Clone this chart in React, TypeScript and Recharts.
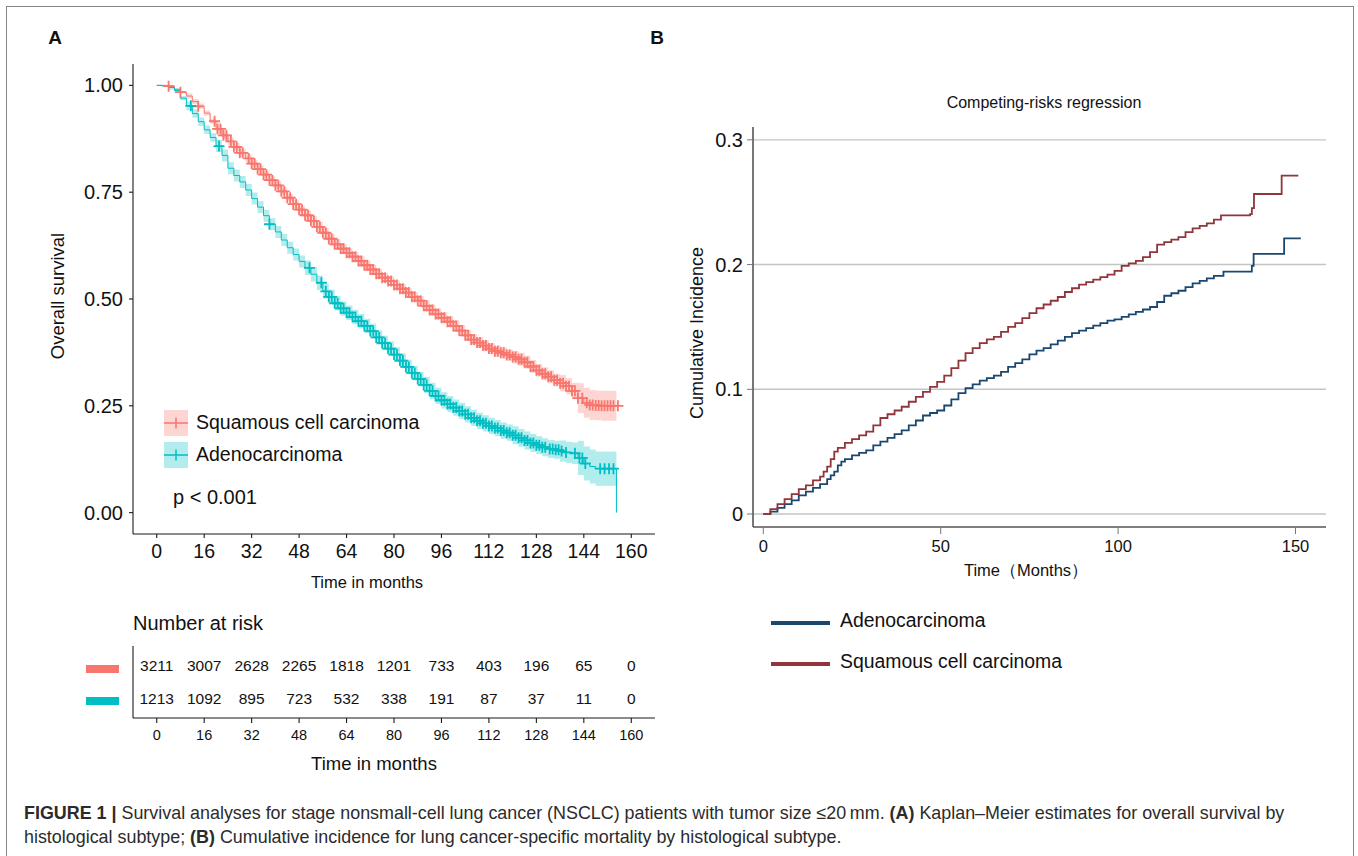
import React from "react";
import {
  Area,
  ComposedChart,
  Line,
  LineChart,
  ReferenceLine,
  Scatter,
  XAxis,
  YAxis,
} from "recharts";

const FONT = '"Liberation Sans", Arial, Helvetica, sans-serif';

const RED = "#F8766D";
const TEAL = "#00BFC4";
const NAVY = "#1a476f";
const MAROON = "#90353b";

// ---- panel A: Kaplan-Meier ----
const kmTimes = [
  0, 2, 4, 6, 8, 10, 12, 14, 16, 18, 20, 22, 24, 26, 28, 30, 32, 34, 36, 38, 40,
  42, 44, 46, 48, 50, 52, 54, 56, 58, 60, 62, 64, 66, 68, 70, 72, 74, 76, 78, 80,
  82, 84, 86, 88, 90, 92, 94, 96, 98, 100, 102, 104, 106, 108, 110, 112, 114,
  116, 118, 120, 122, 124, 126, 128, 130, 132, 134, 136, 138, 140, 142, 144,
  146, 148, 150, 152, 154, 155,
];
const squamousSurv = [
  1.0, 1.0, 0.998, 0.99, 0.984, 0.975, 0.962, 0.951, 0.935, 0.916,
  0.898, 0.883, 0.869, 0.856, 0.842, 0.829, 0.817, 0.804, 0.791, 0.778,
  0.766, 0.752, 0.737, 0.722, 0.709, 0.696, 0.683, 0.669, 0.655, 0.641,
  0.628, 0.618, 0.608, 0.599, 0.589, 0.579, 0.569, 0.559, 0.55, 0.542,
  0.533, 0.524, 0.515, 0.505, 0.496, 0.484, 0.474, 0.465, 0.456, 0.447,
  0.437, 0.426, 0.415, 0.405, 0.398, 0.391, 0.384, 0.378, 0.374, 0.369,
  0.364, 0.359, 0.352, 0.342, 0.333, 0.325, 0.318, 0.31, 0.303, 0.296,
  0.285, 0.268, 0.257, 0.252, 0.251, 0.25, 0.25, 0.25, 0.25,
];
const adenoSurv = [
  1.0, 0.998, 0.995, 0.988, 0.97, 0.952, 0.934, 0.915, 0.896, 0.878,
  0.858, 0.836, 0.806, 0.789, 0.774, 0.755, 0.735, 0.715, 0.695, 0.675,
  0.657, 0.638, 0.62, 0.604, 0.588, 0.573, 0.558, 0.538, 0.518, 0.505,
  0.49, 0.478, 0.468, 0.458, 0.448, 0.437, 0.425, 0.41, 0.397, 0.384,
  0.37, 0.356, 0.341, 0.327, 0.313, 0.299, 0.285, 0.273, 0.263, 0.254,
  0.246, 0.238, 0.23, 0.222, 0.215, 0.209, 0.203, 0.198, 0.192, 0.187,
  0.181, 0.175, 0.169, 0.163, 0.158, 0.153, 0.149, 0.147, 0.144, 0.141,
  0.139, 0.128, 0.115, 0.108, 0.103, 0.103, 0.103, 0.103, 0.103,
];
// half width of the confidence bands, from these times on
const bandTimes = [0, 4, 10, 20, 50, 90, 120, 135, 142];
const squamousHalfCI = [0, 0.003, 0.006, 0.009, 0.011, 0.013, 0.015, 0.019, 0.035];
const adenoHalfCI = [0, 0.005, 0.01, 0.014, 0.017, 0.019, 0.021, 0.025, 0.04];

const squamousCensor = [
  4, 8, 14, 19.5, 20.5, 21.5, 22.5, 23.5, 25, 26, 27, 28, 29, 31, 32, 33, 34,
  35, 36, 37, 38, 39, 40, 41, 42, 43, 44, 45, 46, 47, 48, 49, 50, 51, 52, 53,
  54, 55, 56, 57, 58, 59, 60, 61, 62, 63, 64, 65, 66, 67, 68, 69, 70, 71, 72,
  73, 74, 75, 76, 77, 78, 79, 80, 81, 82, 83, 84, 85, 86, 87, 88, 89, 90, 91,
  92, 93, 94, 95, 96, 97, 98, 99, 100, 101, 102, 103, 104, 105, 106, 107, 108,
  109, 110, 111, 112, 113, 114, 115, 116, 117, 118, 119, 120, 121, 122, 123,
  124, 125, 126, 127, 128, 129, 130, 131, 132, 133, 134, 135, 136, 137, 138,
  139, 140, 141, 142, 143.5, 145, 146, 147, 148, 149, 150, 151, 152, 153, 154,
  155.5,
];
const adenoCensor = [
  11.5, 21, 38, 51.5, 55.5, 57, 58, 59, 60, 61, 62, 63, 64, 65, 66, 67, 68, 69,
  70, 71, 72, 73, 74, 75, 76, 77, 78, 79, 80, 81, 82, 83, 84, 85, 86, 87, 88,
  89, 90, 91, 92, 93, 94, 95, 96, 97, 98, 99, 100, 101, 102, 103, 104, 105, 106,
  107, 108, 109, 110, 111, 112, 113, 114, 115, 116, 117, 118, 119, 120, 121,
  122, 123, 124, 125, 126, 127, 128, 129, 130, 131, 132.5, 133.5, 134.5, 135.5,
  136.5, 138, 141, 142.5, 143.5, 144.5, 149.5, 151, 152.5, 154,
];
const kmTicks = [0, 16, 32, 48, 64, 80, 96, 112, 128, 144, 160];
const survTicks = [0, 0.25, 0.5, 0.75, 1];

// ---- number at risk ----
const riskTimes = [0, 16, 32, 48, 64, 80, 96, 112, 128, 144, 160];
const riskSquamous = [3211, 3007, 2628, 2265, 1818, 1201, 733, 403, 196, 65, 0];
const riskAdeno = [1213, 1092, 895, 723, 532, 338, 191, 87, 37, 11, 0];

// ---- panel B: cumulative incidence ----
const cifSqTimes = [
  0, 2, 4, 6, 8, 10, 12, 14, 16, 17, 18, 19, 20, 21, 23, 25, 27, 29, 31, 33, 35,
  37, 39, 41, 43, 45, 47, 49, 51, 53, 55, 57, 59, 61, 63, 65, 67, 69, 71, 73, 75,
  77, 79, 81, 83, 85, 87, 89, 91, 93, 95, 97, 99, 101, 103, 105, 107, 109, 111,
  113, 115, 117, 119, 121, 123, 125, 127, 129, 137.2, 137.7, 138.3, 146.1, 150.8,
];
const cifSqValues = [
  0, 0.004, 0.008, 0.012, 0.016, 0.02, 0.023, 0.027, 0.03, 0.034, 0.038, 0.044,
  0.05, 0.053, 0.057, 0.06, 0.063, 0.066, 0.071, 0.077, 0.08, 0.083, 0.086,
  0.09, 0.094, 0.098, 0.102, 0.106, 0.111, 0.117, 0.123, 0.129, 0.133, 0.137,
  0.14, 0.142, 0.146, 0.15, 0.153, 0.157, 0.161, 0.165, 0.168, 0.171, 0.174,
  0.178, 0.181, 0.184, 0.186, 0.188, 0.19, 0.192, 0.195, 0.199, 0.201, 0.203,
  0.206, 0.21, 0.216, 0.218, 0.22, 0.222, 0.226, 0.229, 0.231, 0.233, 0.236,
  0.2395, 0.2405, 0.2452, 0.2566, 0.2713, 0.2713,
];
const cifAdTimes = [
  0, 2, 4, 6, 8, 10, 12, 14, 16, 18, 19, 20, 21, 22, 23, 25, 27, 29, 31, 33, 35,
  37, 39, 41, 43, 45, 47, 49, 51, 53, 55, 57, 59, 61, 63, 65, 67, 69, 71, 73, 75,
  77, 79, 81, 83, 85, 87, 89, 91, 93, 95, 97, 99, 101, 103, 105, 107, 109, 111,
  113, 115, 117, 119, 121, 123, 125, 127, 129.7, 137.7, 138.2, 146.8, 151.5,
];
const cifAdValues = [
  0, 0.002, 0.005, 0.008, 0.011, 0.015, 0.018, 0.021, 0.024, 0.028, 0.031,
  0.034, 0.039, 0.042, 0.044, 0.047, 0.049, 0.051, 0.055, 0.058, 0.061, 0.064,
  0.067, 0.071, 0.075, 0.079, 0.081, 0.083, 0.087, 0.092, 0.097, 0.101, 0.104,
  0.107, 0.109, 0.111, 0.114, 0.118, 0.121, 0.124, 0.128, 0.131, 0.133, 0.136,
  0.139, 0.142, 0.145, 0.147, 0.149, 0.151, 0.153, 0.155, 0.156, 0.158, 0.16,
  0.162, 0.164, 0.166, 0.17, 0.175, 0.177, 0.179, 0.182, 0.185, 0.187, 0.189,
  0.191, 0.1943, 0.1989, 0.2085, 0.221, 0.221,
];
const cifXTicks = [0, 50, 100, 150];
const cifYTicks = [0, 0.1, 0.2, 0.3];

function stepAt(times: number[], values: number[], t: number) {
  let idx = 0;
  times.forEach((time, i) => {
    if (time <= t) idx = i;
  });
  return values[idx];
}

const kmRows = kmTimes.map((t, i) => {
  const sqHalf = stepAt(bandTimes, squamousHalfCI, t);
  const adHalf = stepAt(bandTimes, adenoHalfCI, t);
  return {
    t,
    sq: squamousSurv[i],
    ad: adenoSurv[i],
    sqCI: [squamousSurv[i] - sqHalf, Math.min(1, squamousSurv[i] + sqHalf)],
    adCI: [adenoSurv[i] - adHalf, Math.min(1, adenoSurv[i] + adHalf)],
  };
});

const sqCensorRows = squamousCensor.map((t) => ({ t, s: stepAt(kmTimes, squamousSurv, t) }));
const adCensorRows = adenoCensor.map((t) => ({ t, s: stepAt(kmTimes, adenoSurv, t) }));

const riskRows = riskTimes.flatMap((t, i) => [
  { t, row: 2, n: riskSquamous[i] },
  { t, row: 1, n: riskAdeno[i] },
]);

const cifSqRows = cifSqTimes.map((t, i) => ({ t, v: cifSqValues[i] }));
const cifAdRows = cifAdTimes.map((t, i) => ({ t, v: cifAdValues[i] }));

const lastKm = kmTimes.length - 1;

const plus = (color: string) => (props: any) => {
  const { cx, cy } = props;
  if (cx == null || cy == null) return <g />;
  return (
    <path
      d={`M${cx - 5.5},${cy}H${cx + 5.5}M${cx},${cy - 5.5}V${cy + 5.5}`}
      stroke={color}
      strokeWidth={1.8}
      fill="none"
    />
  );
};

const riskLabel = (props: any) => {
  const { cx, cy, payload } = props;
  return (
    <text
      x={cx}
      y={cy}
      textAnchor="middle"
      dominantBaseline="central"
      fontSize={15.5}
      fontFamily={FONT}
      fill="#111"
    >
      {payload.n}
    </text>
  );
};

function Txt({
  x,
  y,
  size,
  children,
  align = "center",
  bold = false,
  rotate = false,
}: {
  x: number;
  y: number;
  size: number;
  children: React.ReactNode;
  align?: "center" | "left";
  bold?: boolean;
  rotate?: boolean;
}) {
  const tx = align === "center" ? "-50%" : "0";
  return (
    <div
      style={{
        position: "absolute",
        left: x,
        top: y,
        fontSize: size,
        lineHeight: 1,
        whiteSpace: "nowrap",
        fontWeight: bold ? 700 : 400,
        color: "#111",
        transform: `translate(${tx}, -50%)${rotate ? " rotate(-90deg)" : ""}`,
      }}
    >
      {children}
    </div>
  );
}

function LegendKey({ color }: { color: string }) {
  return (
    <svg width={24} height={26} style={{ display: "block" }}>
      <rect x={0} y={0} width={24} height={26} fill={color} fillOpacity={0.3} />
      <path d="M0,13H24M12,7.5V18.5" stroke={color} strokeWidth={1.5} />
    </svg>
  );
}

const axisA = { stroke: "#1a1a1a", strokeWidth: 1.1 };
const axisB = { stroke: "#555", strokeWidth: 1.6 };

export default function App() {
  return (
    <div
      style={{
        position: "absolute",
        left: 0,
        top: 0,
        width: 1358,
        height: 856,
        overflow: "hidden",
        background: "#fff",
        fontFamily: FONT,
      }}
    >
      <div
        style={{
          position: "absolute",
          left: 6,
          top: 6,
          width: 1346,
          height: 900,
          border: "1.5px solid #858585",
        }}
      />

      <Txt x={55} y={37} size={19} bold>
        A
      </Txt>
      <Txt x={657} y={37} size={19} bold>
        B
      </Txt>

      {/* panel A survival curves */}
      <div style={{ position: "absolute", left: 0, top: 0 }}>
        <ComposedChart
          width={680}
          height={570}
          data={kmRows}
          margin={{ top: 64, right: 25, bottom: 0, left: 0 }}
        >
          <XAxis
            dataKey="t"
            type="number"
            domain={[-8, 168]}
            ticks={kmTicks}
            allowDataOverflow
            height={36}
            axisLine={axisA}
            tickLine={axisA}
            tickSize={4}
            tickMargin={6}
            tick={{ fill: "#111", fontSize: 19.5, fontFamily: FONT }}
          />
          <YAxis
            type="number"
            domain={[-0.05, 1.05]}
            ticks={survTicks}
            allowDataOverflow
            width={133}
            axisLine={axisA}
            tickLine={axisA}
            tickSize={4}
            tickMargin={6}
            tickFormatter={(v: number) => v.toFixed(2)}
            tick={{ fill: "#111", fontSize: 20, fontFamily: FONT }}
          />
          <Area
            type="stepAfter"
            dataKey="sqCI"
            stroke="none"
            fill={RED}
            fillOpacity={0.3}
            isAnimationActive={false}
          />
          <Area
            type="stepAfter"
            dataKey="adCI"
            stroke="none"
            fill={TEAL}
            fillOpacity={0.3}
            isAnimationActive={false}
          />
          <Line
            type="stepAfter"
            dataKey="sq"
            stroke={RED}
            strokeWidth={1}
            dot={false}
            activeDot={false}
            isAnimationActive={false}
          />
          <Line
            type="stepAfter"
            dataKey="ad"
            stroke={TEAL}
            strokeWidth={1}
            dot={false}
            activeDot={false}
            isAnimationActive={false}
          />
          <ReferenceLine
            segment={[
              { x: kmTimes[lastKm], y: adenoSurv[lastKm] },
              { x: kmTimes[lastKm], y: 0 },
            ]}
            stroke={TEAL}
            strokeWidth={1}
          />
          <Scatter
            data={sqCensorRows}
            dataKey="s"
            shape={plus(RED)}
            isAnimationActive={false}
          />
          <Scatter
            data={adCensorRows}
            dataKey="s"
            shape={plus(TEAL)}
            isAnimationActive={false}
          />
        </ComposedChart>
      </div>

      <Txt x={58} y={296} size={18.5} rotate>
        Overall survival
      </Txt>
      <Txt x={367} y={582} size={16.5}>
        Time in months
      </Txt>

      {/* legend A */}
      <div style={{ position: "absolute", left: 164, top: 410 }}>
        <LegendKey color={RED} />
      </div>
      <div style={{ position: "absolute", left: 164, top: 442 }}>
        <LegendKey color={TEAL} />
      </div>
      <Txt x={196} y={423} size={19.5} align="left">
        Squamous cell carcinoma
      </Txt>
      <Txt x={196} y={455} size={19.5} align="left">
        Adenocarcinoma
      </Txt>
      <Txt x={173} y={497} size={20} align="left">
        p &lt; 0.001
      </Txt>

      {/* number at risk */}
      <Txt x={133} y={623} size={20} align="left">
        Number at risk
      </Txt>
      <div
        style={{ position: "absolute", left: 86, top: 665, width: 33, height: 8, background: RED }}
      />
      <div
        style={{ position: "absolute", left: 86, top: 697, width: 33, height: 8, background: TEAL }}
      />
      <div style={{ position: "absolute", left: 0, top: 630 }}>
        <ComposedChart
          width={680}
          height={130}
          margin={{ top: 16, right: 25, bottom: 0, left: 0 }}
        >
          <XAxis
            dataKey="t"
            type="number"
            domain={[-8, 168]}
            ticks={riskTimes}
            allowDataOverflow
            height={42}
            axisLine={axisA}
            tickLine={axisA}
            tickSize={5}
            tickMargin={7}
            tick={{ fill: "#111", fontSize: 14.5, fontFamily: FONT }}
          />
          <YAxis
            type="number"
            domain={[0.4, 2.6]}
            width={133}
            axisLine={axisA}
            tickLine={false}
            tick={false}
          />
          <Scatter
            data={riskRows}
            dataKey="row"
            shape={riskLabel}
            isAnimationActive={false}
          />
        </ComposedChart>
      </div>
      <Txt x={374} y={764} size={18.5}>
        Time in months
      </Txt>

      {/* panel B */}
      <Txt x={1044} y={103} size={16}>
        Competing-risks regression
      </Txt>
      <div style={{ position: "absolute", left: 680, top: 0 }}>
        <LineChart
          width={678}
          height={600}
          margin={{ top: 127, right: 32, bottom: 0, left: 0 }}
        >
          <XAxis
            dataKey="t"
            type="number"
            domain={[-2.9, 158.6]}
            ticks={cifXTicks}
            allowDataOverflow
            height={73}
            axisLine={axisB}
            tickLine={{ stroke: "#777", strokeWidth: 1 }}
            tickSize={7}
            tickMargin={6}
            tick={{ fill: "#111", fontSize: 16.5, fontFamily: FONT }}
          />
          <YAxis
            type="number"
            domain={[-0.0104, 0.3103]}
            ticks={cifYTicks}
            allowDataOverflow
            width={73}
            axisLine={axisB}
            tickLine={{ stroke: "#777", strokeWidth: 1 }}
            tickSize={6}
            tickMargin={4}
            tickFormatter={(v: number) => String(v)}
            tick={{ fill: "#111", fontSize: 20, fontFamily: FONT }}
          />
          {cifYTicks.map((v) => (
            <ReferenceLine key={v} y={v} stroke="#c4c4c4" strokeWidth={1.4} />
          ))}
          <Line
            data={cifAdRows}
            type="stepAfter"
            dataKey="v"
            stroke={NAVY}
            strokeWidth={1.8}
            dot={false}
            activeDot={false}
            isAnimationActive={false}
          />
          <Line
            data={cifSqRows}
            type="stepAfter"
            dataKey="v"
            stroke={MAROON}
            strokeWidth={1.8}
            dot={false}
            activeDot={false}
            isAnimationActive={false}
          />
        </LineChart>
      </div>
      <Txt x={697} y={333} size={18} rotate>
        Cumulative Incidence
      </Txt>
      <Txt x={1026} y={570} size={16.5}>
        Time（Months）
      </Txt>

      {/* legend B */}
      <div
        style={{ position: "absolute", left: 771, top: 621, width: 59, height: 4, background: NAVY }}
      />
      <div
        style={{ position: "absolute", left: 771, top: 662, width: 59, height: 4, background: MAROON }}
      />
      <Txt x={840} y={621} size={19.4} align="left">
        Adenocarcinoma
      </Txt>
      <Txt x={840} y={662} size={19.4} align="left">
        Squamous cell carcinoma
      </Txt>

      {/* caption */}
      <div
        style={{
          position: "absolute",
          left: 24,
          top: 801,
          fontSize: 17.9,
          lineHeight: "24px",
          color: "#2b2b2b",
          whiteSpace: "nowrap",
        }}
      >
        <b>FIGURE 1 |</b> Survival analyses for stage nonsmall-cell lung cancer (NSCLC) patients
        with tumor size ≤20{"\u2009"}mm. <b>(A)</b> Kaplan–Meier estimates for overall survival by
        <br />
        histological subtype; <b>(B)</b> Cumulative incidence for lung cancer-specific mortality by
        histological subtype.
      </div>
    </div>
  );
}
